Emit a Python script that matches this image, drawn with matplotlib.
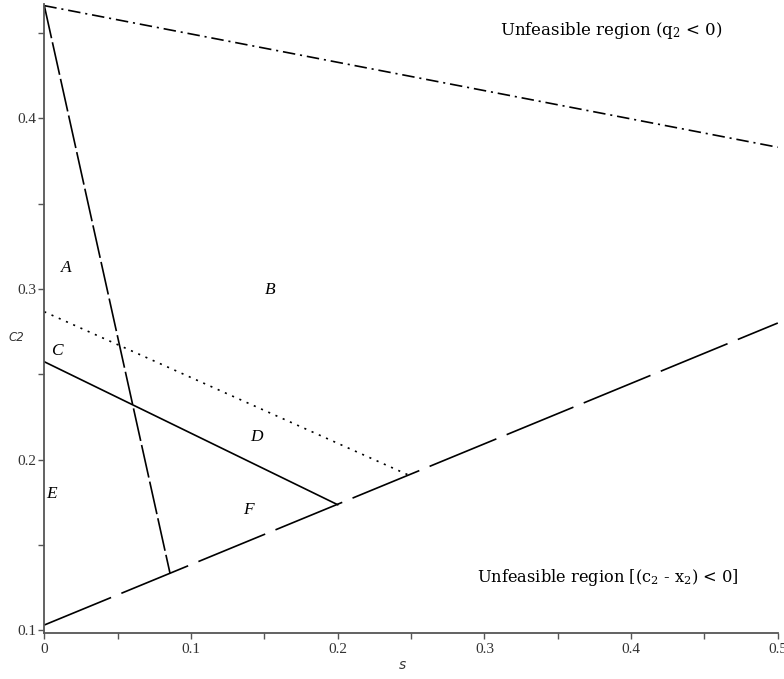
import matplotlib
matplotlib.use("Agg")
import matplotlib.pyplot as plt

# ── Boundary lines (endpoints) ──────────────────────────────────────────────
q2_s,     q2_c2     = [0.0, 0.5],    [0.466, 0.383]    # dash-dot, q2 = 0
steep_s,  steep_c2  = [0.0, 0.0857], [0.466, 0.1333]   # dashed
lower_s,  lower_c2  = [0.0, 0.5],    [0.103, 0.280]    # long dash, c2 - x2 = 0
solid_s,  solid_c2  = [0.0, 0.200],  [0.2573, 0.1735]  # solid
dot_s,    dot_c2    = [0.0, 0.248],  [0.2866, 0.191]   # dotted

REGIONS   = ['A', 'B', 'C', 'D', 'E', 'F']
REGION_S  = [0.0153, 0.1538, 0.0085, 0.1448, 0.0050, 0.1390]
REGION_C2 = [0.3122, 0.2993, 0.2637, 0.2133, 0.1800, 0.1703]

X_TICKS = [0, 0.1, 0.2, 0.3, 0.4, 0.5]
X_TICKLABELS = ['0', '0.1', '0.2', '0.3', '0.4', '0.5']
Y_TICKS = [0.1, 0.2, 0.3, 0.4]
Y_TICKLABELS = ['0.1', '0.2', '0.3', '0.4']

# ── Style ───────────────────────────────────────────────────────────────────
plt.rcParams.update({
    'font.family': 'serif',
    'font.serif': ['Liberation Serif', 'DejaVu Serif'],
    'mathtext.fontset': 'dejavuserif',
    'lines.scale_dashes': False,
})
AX_COL = '#555555'

fig = plt.figure(figsize=(7.84, 6.79), dpi=100)
ax = fig.add_axes([0.0565, 0.0682, 0.9356, 0.926])

lw = 1.2
ax.plot(q2_s, q2_c2, color='black', lw=lw, dashes=(9, 3.5, 1.5, 3.5), clip_on=False)
ax.plot(steep_s, steep_c2, color='black', lw=lw, dashes=(24, 3), clip_on=False)
ax.plot(lower_s, lower_c2, color='black', lw=lw, dashes=(52, 8), clip_on=False)
ax.plot(solid_s, solid_c2, color='black', lw=lw)
ax.plot(dot_s, dot_c2, color='black', lw=lw, dashes=(1.5, 4.2))

for lbl, s, c in zip(REGIONS, REGION_S, REGION_C2):
    ax.text(s, c, lbl, fontsize=12.5, style='italic', ha='center', va='center')

ax.text(0.3863, 0.4517, r'Unfeasible region (q$_2$ < 0)', family='DejaVu Serif',
        fontsize=12, ha='center', va='center')
ax.text(0.3842, 0.131, r'Unfeasible region [(c$_2$ - x$_2$) < 0]', family='DejaVu Serif',
        fontsize=11.7, ha='center', va='center')

# axis labels placed like the original
ax.text(-0.0193, 0.2717, 'C2', family='DejaVu Sans', style='italic', fontsize=8.5,
        ha='center', va='center', color='#333333', clip_on=False)
ax.text(0.2444, 0.0795, 's', family='DejaVu Sans', style='italic', fontsize=10,
        ha='center', va='center', color='#333333', clip_on=False)

ax.set_xlim(0, 0.5)
ax.set_ylim(0.0985, 0.467)

for side in ['top', 'right']:
    ax.spines[side].set_visible(False)
for side in ['left', 'bottom']:
    ax.spines[side].set_color(AX_COL)
    ax.spines[side].set_linewidth(1.3)

ax.set_xticks(X_TICKS)
ax.set_xticklabels(X_TICKLABELS)
ax.set_yticks(Y_TICKS)
ax.set_yticklabels(Y_TICKLABELS)
ax.set_xticks([0.05, 0.15, 0.25, 0.35, 0.45], minor=True)
ax.set_yticks([0.15, 0.25, 0.35, 0.45], minor=True)
ax.tick_params(which='both', direction='out', length=4, width=1, color=AX_COL,
               labelsize=11, labelcolor='#333333')
ax.tick_params(axis='x', pad=3.5)
ax.tick_params(axis='y', pad=1.5)

fig.savefig('out.png', dpi=100)
